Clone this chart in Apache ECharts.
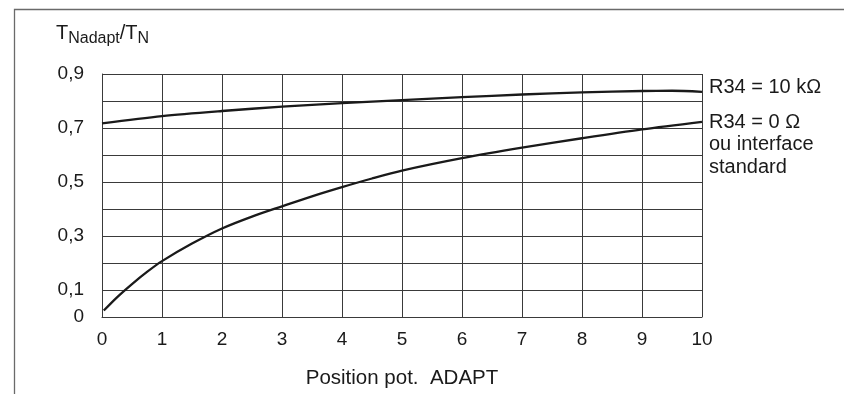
<!DOCTYPE html>
<html>
<head>
<meta charset="utf-8">
<script src="https://cdn.jsdelivr.net/npm/echarts@6/dist/echarts.min.js"></script>
<style>
  html, body { margin: 0; padding: 0; background: #fff; }
  #chart { width: 844px; height: 394px; }
</style>
</head>
<body>
<div id="chart"></div>
<script>
// Potentiometer position (0..10) and relative time constant T_Nadapt / T_N
const posUpper = [0, 1, 2, 3, 4, 5, 6, 7, 8, 9, 9.5, 10];
const ratioUpper = [0.717, 0.744, 0.763, 0.779, 0.792, 0.803, 0.814, 0.824, 0.832, 0.837, 0.838, 0.834];

const posLower = [0.03, 0.25, 0.5, 0.75, 1, 1.5, 2, 2.5, 3, 3.5, 4, 4.5, 5, 6, 7, 8, 9, 10];
const ratioLower = [0.024, 0.073, 0.122, 0.167, 0.207, 0.272, 0.328, 0.372, 0.41, 0.447, 0.481, 0.513, 0.542, 0.588, 0.627, 0.662, 0.695, 0.723];

// Curve captions and axis texts
const labelUpper = 'R34 = 10 k\u03A9';
const labelLower = 'R34 = 0 \u03A9\nou interface\nstandard';
const xTickLabels = ['0', '1', '2', '3', '4', '5', '6', '7', '8', '9', '10'];
const yTickValues = [0, 0.1, 0.3, 0.5, 0.7, 0.9];
const yTickLabels = ['0', '0,1', '0,3', '0,5', '0,7', '0,9'];
const xAxisTitle = 'Position pot.  ADAPT';

const FONT = '"Liberation Sans", Arial, Helvetica, sans-serif';
const GRID = '#3a3a3a';
const INK = '#1a1a1a';

function pairs(xs, ys) { return xs.map((x, i) => [x, ys[i]]); }

function curveSeries(xs, ys, caption, offsetY, topAligned) {
  return {
    type: 'line',
    name: caption,
    data: pairs(xs, ys),
    smooth: 0.3,
    showSymbol: false,
    symbol: 'none',
    lineStyle: { color: INK, width: 2.3 },
    z: 5,
    endLabel: {
      show: true,
      formatter: caption,
      distance: 7,
      color: INK,
      fontFamily: FONT,
      fontSize: 20,
      lineHeight: 22.5,
      align: 'left',
      verticalAlign: topAligned ? 'top' : 'middle',
      offset: [0, offsetY],
    },
  };
}

const chart = echarts.init(document.getElementById('chart'), null, { renderer: 'canvas' });

chart.setOption({
  animation: false,
  backgroundColor: '#fff',
  title: {
    left: 51,
    top: 14,
    text: '{t|T}{s|Nadapt}{t|/T}{s|N}',
    textStyle: {
      fontWeight: 'normal',
      rich: {
        t: { fontFamily: FONT, fontSize: 20, fontWeight: 'normal', color: INK },
        s: { fontFamily: FONT, fontSize: 16, fontWeight: 'normal', color: INK, padding: [12, 0, 0, 0] },
      },
    },
  },
  graphic: [
    {
      type: 'polyline',
      silent: true,
      shape: { points: [[14.5, 394], [14.5, 9.5], [844, 9.5]] },
      style: { stroke: '#6a6a6a', lineWidth: 1.3, fill: null },
    },
  ],
  grid: { left: 102, top: 74, width: 600, height: 245, containLabel: false },
  xAxis: {
    type: 'value',
    min: 0,
    max: 10,
    interval: 1,
    name: xAxisTitle,
    nameLocation: 'middle',
    nameGap: 51,
    nameTextStyle: { fontFamily: FONT, fontSize: 20.5, color: INK },
    axisLine: { show: true, lineStyle: { color: GRID, width: 1 } },
    axisTick: { show: false },
    axisLabel: {
      margin: 13,
      fontFamily: FONT,
      fontSize: 19,
      color: INK,
      formatter: (v) => xTickLabels[Math.round(v)] ?? '',
    },
    splitLine: { show: true, lineStyle: { color: GRID, width: 1 } },
  },
  yAxis: {
    type: 'value',
    min: 0,
    max: 0.9,
    interval: 0.1,
    axisLine: { show: true, lineStyle: { color: GRID, width: 1 } },
    axisTick: { show: false },
    axisLabel: {
      margin: 18,
      fontFamily: FONT,
      fontSize: 19,
      color: INK,
      formatter: (v) => {
        const i = yTickValues.findIndex((t) => Math.abs(t - v) < 1e-6);
        return i >= 0 ? yTickLabels[i] : '';
      },
    },
    splitLine: { show: true, lineStyle: { color: GRID, width: 1 } },
  },
  series: [
    curveSeries(posUpper, ratioUpper, labelUpper, -4, false),
    curveSeries(posLower, ratioLower, labelLower, -11, true),
  ],
});
</script>
</body>
</html>
